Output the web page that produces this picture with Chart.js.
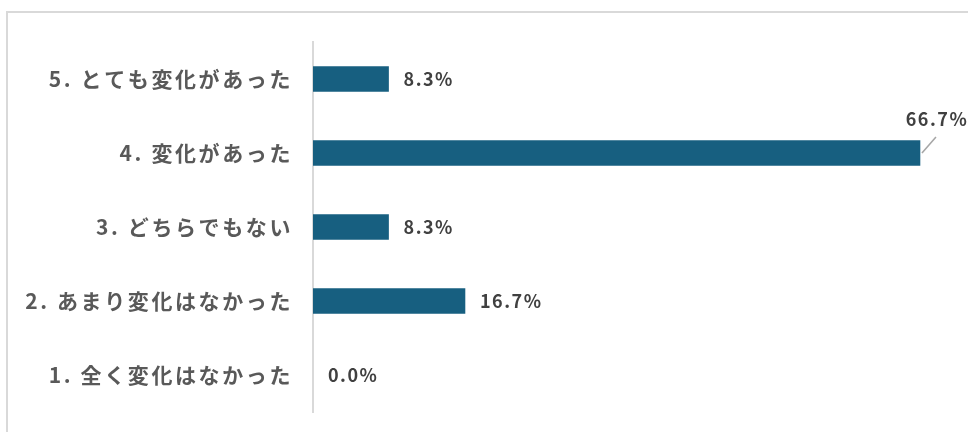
<!DOCTYPE html>
<html lang="ja">
<head>
<meta charset="utf-8">
<script src="https://cdn.jsdelivr.net/npm/chart.js@4.4.1/dist/chart.umd.min.js"></script>
<style>
  body { margin: 0; background: #fff; overflow: hidden; }
  .wrap { position: relative; width: 968px; height: 432px; }
  .frame {
    position: absolute; left: 6px; top: 11px; width: 1200px; height: 800px;
    border-top: 2px solid #d9d9d9; border-left: 2px solid #d9d9d9;
  }
  #changeChart { position: absolute; left: 0; top: 0; }
</style>
</head>
<body>
<div class="wrap">
  <div class="frame"></div>
  <canvas id="changeChart" width="968" height="432"></canvas>
</div>
<script>
const categories = [
    '5. とても変化があった',
    '4. 変化があった',
    '3. どちらでもない',
    '2. あまり変化はなかった',
    '1. 全く変化はなかった'
];
const values = [8.3, 66.7, 8.3, 16.7, 0.0];

const labelFont = "'Noto Sans CJK JP', 'Noto Sans', sans-serif";

// percentage labels next to each bar; a label that would run off the
// right edge goes above the bar end with a short leader line
const valueLabels = {
    id: 'valueLabels',
    afterDatasetsDraw(chart) {
        const ctx = chart.ctx;
        const meta = chart.getDatasetMeta(0);
        ctx.save();
        ctx.font = 'bold 18px ' + labelFont;
        ctx.letterSpacing = '1.5px';
        ctx.fillStyle = '#404040';
        ctx.textBaseline = 'middle';
        meta.data.forEach((bar, i) => {
            const text = values[i].toFixed(1) + '%';
            const w = ctx.measureText(text).width;
            if (bar.x + 16 + w > chart.chartArea.right) {
                ctx.strokeStyle = '#a6a6a6';
                ctx.lineWidth = 1.5;
                ctx.beginPath();
                ctx.moveTo(bar.x + 2, bar.y);
                ctx.lineTo(bar.x + 16, bar.y - 16);
                ctx.stroke();
                ctx.textAlign = 'center';
                ctx.fillText(text, bar.x + 17, bar.y - 34);
            } else {
                ctx.textAlign = 'left';
                ctx.fillText(text, bar.x + 15, bar.y);
            }
        });
        ctx.restore();
    }
};

// spaced-out category text
const spacing = {
    id: 'spacing',
    beforeDraw(chart) {
        chart.ctx.letterSpacing = '2.6px';
    }
};

const chart = new Chart(document.getElementById('changeChart').getContext('2d'), {
    type: 'bar',
    data: {
        labels: categories,
        datasets: [{
            data: values,
            // zero bars leave no sliver on the axis
            backgroundColor: (c) => c.raw === 0 ? 'rgba(0,0,0,0)' : '#175f80',
            borderWidth: 0,
            barThickness: 25
        }]
    },
    options: {
        indexAxis: 'y',
        responsive: false,
        devicePixelRatio: 1,
        animation: false,
        layout: {
            padding: { top: 42, bottom: 20, right: 18, left: 0 }
        },
        plugins: {
            legend: { display: false },
            tooltip: { enabled: false }
        },
        scales: {
            x: {
                display: false,
                min: 0,
                max: 70
            },
            y: {
                afterFit: (scale) => {
                    scale.width = 313;
                    scale.paddingTop = 0;
                    scale.paddingBottom = 0;
                },
                grid: { display: false, drawTicks: false },
                border: { color: '#d9d9d9', width: 2 },
                ticks: {
                    padding: 20,
                    color: '#595959',
                    font: { family: labelFont, size: 21, weight: 'bold' }
                }
            }
        }
    },
    plugins: [spacing, valueLabels]
});
</script>
</body>
</html>
